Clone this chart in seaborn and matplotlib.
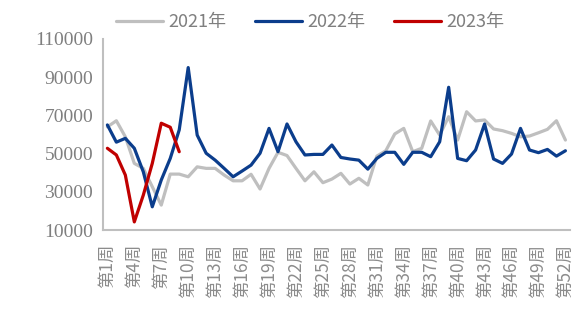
import matplotlib
matplotlib.use("Agg")
import matplotlib.pyplot as plt
import seaborn as sns
import pandas as pd

weeks = list(range(1, 53))
y2021 = [64000, 67200, 58800, 44900, 42300, 32700, 23100, 39300, 39300, 37900,
         43100, 42300, 42300, 38800, 35800, 35800, 39200, 31500, 42300, 50700,
         49000, 42300, 35800, 40500, 34800, 36700, 39700, 34100, 37100, 33600,
         48700, 51500, 60300, 63200, 51000, 52800, 67100, 59700, 69300, 57100,
         71900, 67100, 67600, 62900, 62000, 60600, 58800, 59200, 60900, 62700,
         67200, 57100]
y2022 = [65000, 56000, 58000, 52800, 40500, 22200, 36200, 47500, 62400, 95000,
         59700, 50200, 46600, 42300, 37900, 40900, 44000, 50200, 63200, 51000,
         65500, 56200, 49300, 49600, 49600, 54500, 48000, 47200, 46600, 41900,
         47500, 50700, 50700, 44400, 50700, 50700, 48400, 56200, 84700, 47500,
         46300, 51900, 65500, 47200, 44900, 49800, 63200, 51900, 50500, 52200,
         48700, 51500]
y2023 = [52800, 49300, 38800, 14300, 28300, 44900, 65900, 63800, 51000]
series_names = ["2021年", "2022年", "2023年"]
colors = ["#bfbfbf", "#0b3d8c", "#c00000"]
tick_weeks = list(range(1, 53, 3))
tick_labels = [f"第{w}周" for w in tick_weeks]

df = pd.concat([
    pd.DataFrame({"week": weeks, "value": y2021, "year": series_names[0]}),
    pd.DataFrame({"week": weeks, "value": y2022, "year": series_names[1]}),
    pd.DataFrame({"week": weeks[:len(y2023)], "value": y2023, "year": series_names[2]}),
])

sns.set_style("white")
plt.rcParams["font.family"] = ["Noto Sans CJK SC", "DejaVu Sans"]

fig = plt.figure(figsize=(5.78, 3.11), dpi=100)
ax = fig.add_axes([0.178, 0.26, 0.808, 0.615])

sns.lineplot(data=df, x="week", y="value", hue="year", palette=colors,
             hue_order=series_names, linewidth=2.3, ax=ax, legend=True)

ax.set_xlim(0.5, 52.5)
ax.set_ylim(10000, 110000)
ax.set_yticks(range(10000, 110001, 20000))
ax.set_yticklabels([str(v) for v in range(10000, 110001, 20000)],
                   family="Liberation Serif", fontsize=14, color="#7f7f7f")
ax.set_xticks(tick_weeks)
ax.set_xticklabels(tick_labels, rotation=90, fontsize=12.5, color="#8c8c8c")
ax.set_xticks([w + 0.5 for w in range(0, 53)], minor=True)
ax.tick_params(axis="x", which="major", length=0, pad=10)
ax.tick_params(axis="x", which="minor", length=4, width=1.2, color="#bfbfbf")
ax.tick_params(axis="y", length=4, width=1.2, color="#bfbfbf", pad=3)
ax.set_xlabel("")
ax.set_ylabel("")

for side in ["top", "right"]:
    ax.spines[side].set_visible(False)
for side in ["left", "bottom"]:
    ax.spines[side].set_color("#bfbfbf")
    ax.spines[side].set_linewidth(1.5)

handles, labels = ax.get_legend_handles_labels()
ax.legend(handles, labels, ncol=3, frameon=False, fontsize=13,
          loc="center", bbox_to_anchor=(0.537, 0.929), bbox_transform=fig.transFigure,
          handlelength=2.6, handletextpad=0.3, columnspacing=1.6,
          labelcolor="#7f7f7f")

fig.savefig("out.png", dpi=100)
